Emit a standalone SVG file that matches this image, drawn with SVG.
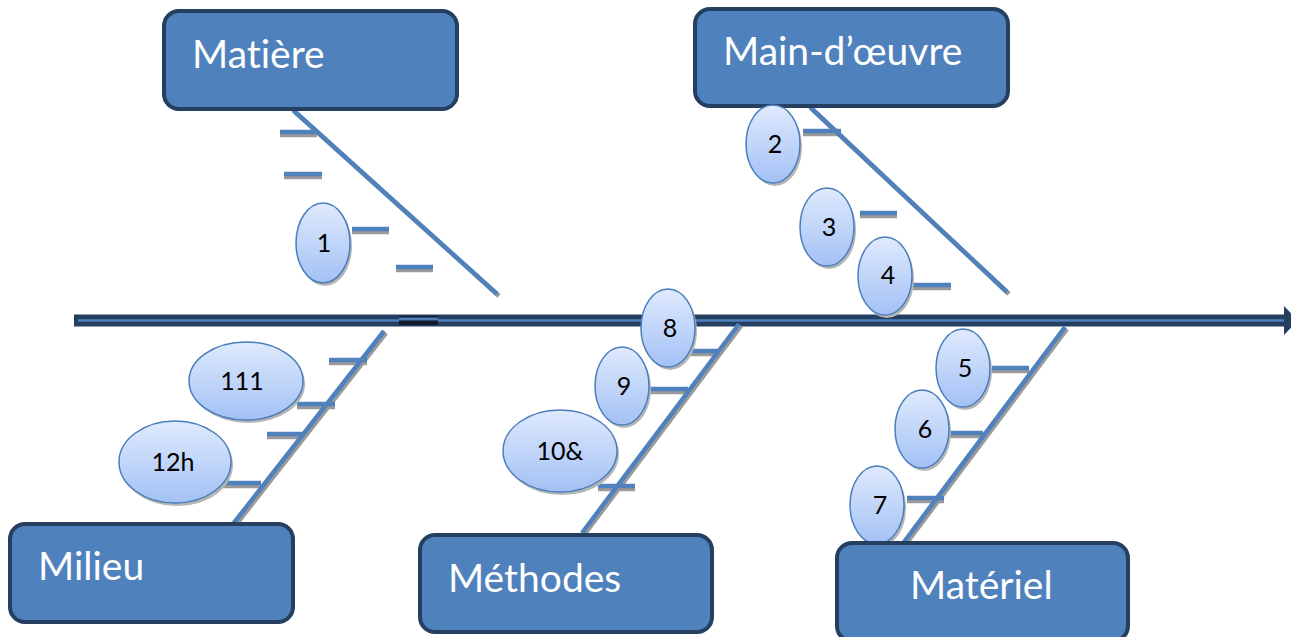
<svg xmlns="http://www.w3.org/2000/svg" width="1291" height="637" viewBox="0 0 1291 637">
<defs>
<linearGradient id="eg" x1="0" y1="0" x2="0" y2="1">
<stop offset="0" stop-color="#dfeafd"/>
<stop offset="1" stop-color="#a3c1f5"/>
</linearGradient>
<style>
text{font-variant-ligatures:none;font-feature-settings:"liga" 0}
.box{fill:#4f81bd;stroke:#243f60;stroke-width:4}
.bt{font-family:Lato,"Open Sans",sans-serif;font-size:39px;fill:#ffffff}
.el{fill:url(#eg);stroke:#4a7ebb;stroke-width:1.5}
.es{fill:#b5b5b5}
.et{font-family:Lato,"Open Sans",sans-serif;font-size:25px;fill:#000000;text-anchor:middle}
.bone{stroke:#4f81bd;stroke-width:4.5;fill:none}
.sh{stroke:#9a9a9a;stroke-width:4.5;fill:none}
</style>
</defs>
<rect width="1291" height="637" fill="#ffffff"/>

<g id="connectors">
  <line x1="74" y1="320.5" x2="1286" y2="320.5" stroke="#243f60" stroke-width="12"/>
  <line x1="78" y1="320.5" x2="1288" y2="320.5" stroke="#4f81bd" stroke-width="2.5"/>
  <polygon points="1284,306 1298,320.5 1284,335" fill="#243f60"/>
  <rect x="399" y="316" width="39" height="9" fill="#111a2a"/>
  <line x1="399" y1="319" x2="438" y2="319" stroke="#4f81bd" stroke-width="3"/>

  <g class="sh">
    <path d="M295,112 L499,296"/>
    <path d="M812,109 L1009,294"/>
    <path d="M386,333 L235,526"/>
    <path d="M741,326 L584,535"/>
    <path d="M1067,329 L906,544"/>
    <path d="M280,135 H317 M284,177 H322 M352,232 H389 M396,270 H433"/>
    <path d="M803,134 H841 M860,216 H897 M913,288 H951"/>
    <path d="M329,363 H367 M297,407 H335 M267,437 H305 M223,486 H261"/>
    <path d="M680,354 H718 M649,392 H688 M598,489 H635"/>
    <path d="M992,371 H1029 M950,436 H983 M907,501 H944"/>
  </g>
  <g class="bone">
    <path d="M293,110 L497,294"/>
    <path d="M810,107 L1007,292"/>
    <path d="M384,331 L233,524"/>
    <path d="M739,324 L582,533"/>
    <path d="M1065,327 L904,542"/>
    <path d="M280,132 H317 M284,174 H322 M352,229 H389 M396,267 H433"/>
    <path d="M803,131 H841 M860,213 H897 M913,285 H951"/>
    <path d="M329,360 H367 M297,404 H335 M267,434 H305 M223,483 H261"/>
    <path d="M680,351 H718 M649,389 H688 M598,486 H635"/>
    <path d="M992,368 H1029 M950,433 H983 M907,498 H944"/>
  </g>
</g>

<g id="box-matiere">
  <rect class="box" x="164" y="11" width="293" height="98" rx="15"/>
  <text class="bt" x="192" y="68">Matière</text>
</g>
<g id="box-main-oeuvre">
  <rect class="box" x="695" y="9" width="313" height="97" rx="15"/>
  <text class="bt" x="723" y="65">Main-d’œuvre</text>
</g>
<g id="box-milieu">
  <rect class="box" x="10" y="524" width="283" height="98" rx="15"/>
  <text class="bt" x="38" y="580">Milieu</text>
</g>
<g id="box-methodes">
  <rect class="box" x="420" y="535" width="292" height="97" rx="15"/>
  <text class="bt" x="448" y="592">Méthodes</text>
</g>

<g id="e1"><ellipse class="es" cx="325" cy="246" rx="27" ry="40"/><ellipse class="el" cx="323" cy="243" rx="27" ry="40"/><text class="et" x="324" y="252">1</text></g>
<g id="e2"><ellipse class="es" cx="775" cy="147" rx="27" ry="39"/><ellipse class="el" cx="773" cy="144" rx="27" ry="39"/><text class="et" x="775" y="153">2</text></g>
<g id="e3"><ellipse class="es" cx="829" cy="230" rx="27" ry="39"/><ellipse class="el" cx="827" cy="227" rx="27" ry="39"/><text class="et" x="829" y="236">3</text></g>
<g id="e4"><ellipse class="es" cx="887" cy="279" rx="27" ry="39"/><ellipse class="el" cx="885" cy="276" rx="27" ry="39"/><text class="et" x="888" y="284">4</text></g>
<g id="e8"><ellipse class="es" cx="670" cy="331" rx="27" ry="39"/><ellipse class="el" cx="668" cy="328" rx="27" ry="39"/><text class="et" x="670" y="337">8</text></g>
<g id="e9"><ellipse class="es" cx="624" cy="389" rx="27" ry="39"/><ellipse class="el" cx="622" cy="386" rx="27" ry="39"/><text class="et" x="624" y="395">9</text></g>
<g id="e10"><ellipse class="es" cx="562" cy="454" rx="57" ry="41"/><ellipse class="el" cx="560" cy="451" rx="57" ry="41"/><text class="et" x="560" y="460">10&amp;</text></g>
<g id="e111"><ellipse class="es" cx="248" cy="384" rx="57" ry="39"/><ellipse class="el" cx="246" cy="381" rx="57" ry="39"/><text class="et" x="242" y="390">111</text></g>
<g id="e12h"><ellipse class="es" cx="177" cy="465" rx="56" ry="41"/><ellipse class="el" cx="175" cy="462" rx="56" ry="41"/><text class="et" x="173" y="471">12h</text></g>
<g id="e5"><ellipse class="es" cx="965" cy="371" rx="27" ry="39"/><ellipse class="el" cx="963" cy="368" rx="27" ry="39"/><text class="et" x="965" y="377">5</text></g>
<g id="e6"><ellipse class="es" cx="924" cy="432" rx="27" ry="39"/><ellipse class="el" cx="922" cy="429" rx="27" ry="39"/><text class="et" x="925" y="438">6</text></g>
<g id="e7"><ellipse class="es" cx="879" cy="508" rx="27" ry="39"/><ellipse class="el" cx="877" cy="505" rx="27" ry="39"/><text class="et" x="880" y="514">7</text></g>

<g id="box-materiel">
  <rect class="box" x="837" y="543" width="291" height="98" rx="15"/>
  <text class="bt" x="910" y="599">Matériel</text>
</g>
</svg>
